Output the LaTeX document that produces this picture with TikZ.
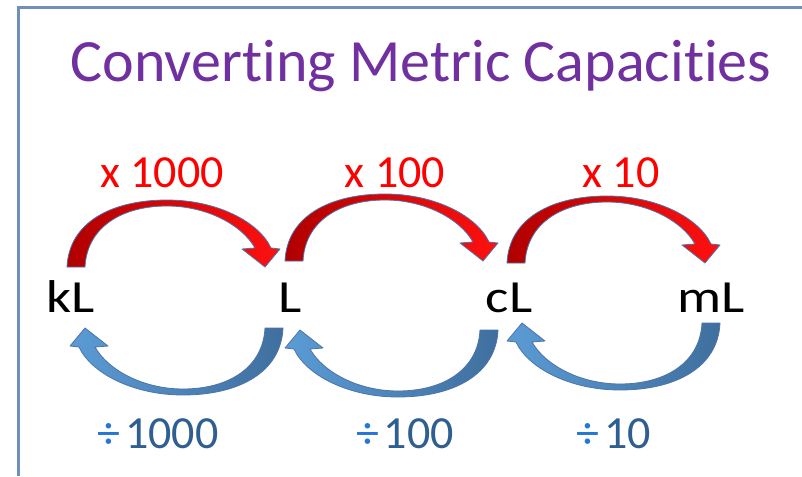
\documentclass[tikz,border=0pt]{standalone}
\usepackage{fontspec}
\setmainfont[Ligatures=NoCommon]{Carlito}
\definecolor{titlepurple}{HTML}{7030A0}
\definecolor{framecol}{HTML}{7090BC}
\definecolor{redlab}{HTML}{FF0000}
\definecolor{reddark}{HTML}{B00000}
\definecolor{redlight}{HTML}{FF1010}
\definecolor{bluelight}{HTML}{5B9BD5}
\definecolor{bluedark}{HTML}{3F6F9E}
\definecolor{arcline}{HTML}{4F74A8}
\definecolor{divsign}{HTML}{2377D6}
\definecolor{divnum}{HTML}{2F5F91}
\newcommand\widen[1]{\scalebox{1.2}[1]{#1}}
\tikzset{
  unitlab/.style={font=\fontsize{46}{46}\selectfont, text=black, anchor=base, inner sep=0pt},
  mullab/.style={font=\fontsize{46}{46}\selectfont, text=redlab, anchor=base, inner sep=0pt},
  divlab/.style={font=\fontsize{46}{46}\selectfont, anchor=base, inner sep=0pt},
  arcbody/.style={draw=arcline, line width=0.8pt, line join=round},
  redarc/.pic={
    \shade[arcbody, left color=reddark, right color=redlight]
      (0,0) .. controls (2,-45) and (45,-67) .. (100,-67)
      .. controls (150,-67) and (192,-45) .. (204,-19)
      -- (213,-18) -- (198,0) -- (175,-18) -- (188,-19)
      .. controls (175,-42) and (140,-61) .. (100,-61)
      .. controls (55,-61) and (20,-40) .. (18,0) -- cycle;
  },
  bluearc/.pic={
    \shade[arcbody, left color=bluelight, right color=bluedark, rotate=180]
      (0,0) .. controls (2,-45) and (45,-67) .. (100,-67)
      .. controls (150,-67) and (192,-45) .. (204,-19)
      -- (213,-18) -- (198,0) -- (175,-18) -- (188,-19)
      .. controls (175,-42) and (140,-61) .. (100,-61)
      .. controls (55,-61) and (20,-40) .. (18,0) -- cycle;
  }
}
\begin{document}
\begin{tikzpicture}[x=1pt,y=-1pt]
\useasboundingbox (0,0) rectangle (802,476);
\fill[white] (0,0) rectangle (802,476);
\draw[framecol, line width=3pt] (18.5,476) -- (18.5,8) -- (802,8);
\node[font=\fontsize{60}{60}\selectfont, text=titlepurple, anchor=base, inner sep=0pt] (title) at (421,82) {Converting Metric Capacities};

% arrows
\pic at (67,267) {redarc};
\pic at (285,261) {redarc};
\pic at (507,263) {redarc};
\pic at (283,328) {bluearc};
\pic at (498,330) {bluearc};
\pic at (720,323) {bluearc};

% units
\node[unitlab] (kL) at (71,312) {\widen{kL}};
\node[unitlab] (L) at (290,312) {\widen{L}};
\node[unitlab] (cL) at (509,312) {\widen{cL}};
\node[unitlab] (mL) at (711,312) {\widen{mL}};

% multiply labels
\node[mullab] (m1) at (162,187) {x 1000};
\node[mullab] (m2) at (395,187) {x 100};
\node[mullab] (m3) at (621,187) {x 10};

% divide labels
\node[divlab] (d1) at (158,448) {{\color{divsign}÷}\hspace{5pt}{\color{divnum}1000}};
\node[divlab] (d2) at (405,448) {{\color{divsign}÷}\hspace{5pt}{\color{divnum}100}};
\node[divlab] (d3) at (614,448) {{\color{divsign}÷}\hspace{5pt}{\color{divnum}10}};
\end{tikzpicture}
\end{document}
